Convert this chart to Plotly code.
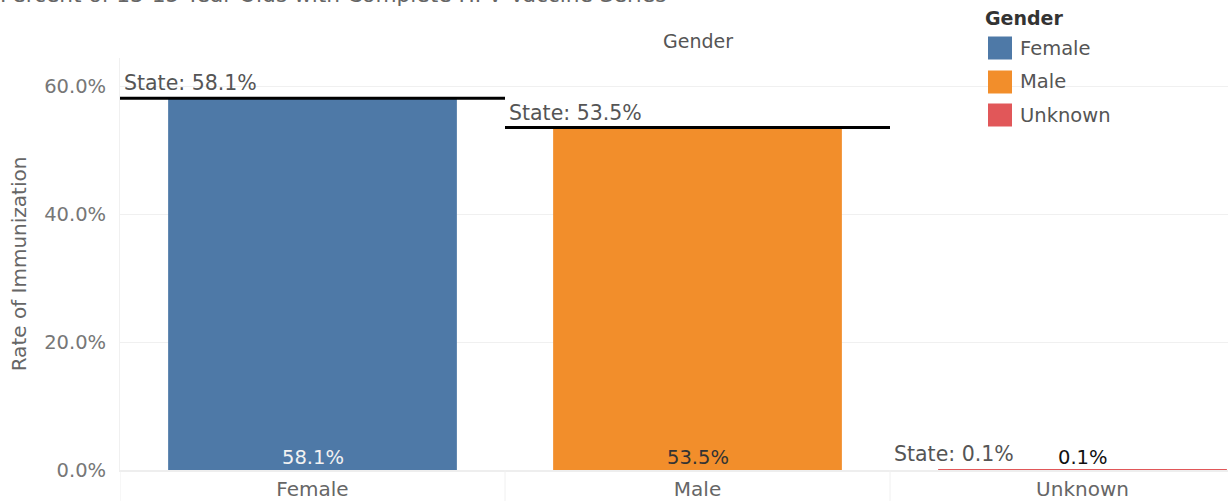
import plotly.graph_objects as go

# ---- data ----
genders = ["Female", "Male", "Unknown"]
rates = [58.1, 53.5, 0.1]            # rate of immunization (%)
state_rates = [58.1, 53.5, 0.1]      # state reference (%)
state_line_visible = [True, True, False]
colors = ["#4e79a7", "#f28e2b", "#e15759"]
label_colors = ["#f2f2f2", "#333333", "#111111"]
y_ticks = [0, 20, 40, 60]
title_text = "Percent of 13-15 Year Olds with Complete HPV Vaccine Series"
col_header = "Gender"
y_title = "Rate of Immunization"

W, H = 1228, 502
ML, MR, MT, MB = 120, 0, 58, 32
PW = W - ML - MR
PH = H - MT - MB
BAND = 385.0
ZERO_PX = H - MB  # pixel row of 0%
PX_PER = 6.4

def px_to_paper_x(px):
    return (px - ML) / PW

def px_to_paper_y(py):
    return (H - MB - py) / PH

FONT = "DejaVu Sans"

fig = go.Figure()
fig.add_trace(go.Bar(
    x=genders, y=rates, marker=dict(color=colors, line=dict(width=0)),
    width=0.75, showlegend=False, hoverinfo="x+y",
))

annotations = []
shapes = []

for i, (g, v, s) in enumerate(zip(genders, rates, state_rates)):
    annotations.append(dict(
        x=i, y=0, xref="x", yref="y", text=f"{v:.1f}%", showarrow=False,
        yanchor="bottom", xanchor="center", yshift=-1,
        font=dict(family=FONT, size=19.5, color=label_colors[i]),
    ))
    if state_line_visible[i]:
        shapes.append(dict(
            type="line", xref="x", yref="y", x0=i - 0.5, x1=i + 0.5, y0=s, y1=s,
            line=dict(color="#000000", width=3), layer="above",
        ))
    annotations.append(dict(
        x=i - 0.5, y=s, xref="x", yref="y", text=f"State: {s:.1f}%",
        showarrow=False, xanchor="left", yanchor="bottom", xshift=2, yshift=1,
        font=dict(family=FONT, size=20.5, color="#555555"),
    ))
    shapes.append(dict(
        type="line", xref="x", yref="paper", x0=i - 0.5, x1=i - 0.5,
        y0=0, y1=-0.075, line=dict(color="#f0f0f0", width=1),
    ))

# column header
annotations.append(dict(
    x=1, y=px_to_paper_y(41), xref="x", yref="paper", text=col_header,
    showarrow=False, xanchor="center", yanchor="middle",
    font=dict(family=FONT, size=19, color="#555555"),
))

# cut-off title at the top
annotations.append(dict(
    x=px_to_paper_x(-2), y=px_to_paper_y(-5), xref="paper", yref="paper",
    text=title_text, showarrow=False, xanchor="left", yanchor="middle",
    font=dict(family=FONT, size=21.7, color="#666666"),
))

# legend (manual, large swatches)
annotations.append(dict(
    x=px_to_paper_x(983), y=px_to_paper_y(18), xref="paper", yref="paper",
    text="<b>Gender</b>", showarrow=False, xanchor="left", yanchor="middle",
    font=dict(family=FONT, size=19, color="#333333"),
))
legend_rows = [48, 82, 115]
for g, c, cy in zip(genders, colors, legend_rows):
    shapes.append(dict(
        type="rect", xref="paper", yref="paper",
        x0=px_to_paper_x(988), x1=px_to_paper_x(1012),
        y0=px_to_paper_y(cy + 11.5), y1=px_to_paper_y(cy - 11.5),
        fillcolor=c, line=dict(width=0),
    ))
    annotations.append(dict(
        x=px_to_paper_x(1018), y=px_to_paper_y(cy), xref="paper", yref="paper",
        text=g, showarrow=False, xanchor="left", yanchor="middle",
        font=dict(family=FONT, size=19.5, color="#555555"),
    ))

x_hi = -0.5 + PW / BAND
y_lo = 0
y_hi = (ZERO_PX - MT) / PX_PER

fig.update_layout(
    width=W, height=H,
    margin=dict(l=ML, r=MR, t=MT, b=MB, pad=0, autoexpand=False),
    paper_bgcolor="white", plot_bgcolor="white",
    font=dict(family=FONT, color="#666666"),
    bargap=0.25,
    annotations=annotations, shapes=shapes,
    xaxis=dict(
        range=[-0.5, x_hi], type="category", showgrid=False, zeroline=False,
        showline=True, linecolor="#eeeeee", linewidth=2,
        ticks="", ticklen=0,
        tickfont=dict(family=FONT, size=20, color="#666666"),
        fixedrange=True, automargin=False,
    ),
    yaxis=dict(
        range=[y_lo, y_hi], tickvals=y_ticks,
        ticktext=[f"{t:.1f}%" for t in y_ticks],
        showgrid=True, gridcolor="#f0f0f0", gridwidth=1,
        zeroline=False, showline=True, linecolor="#f0f0f0", linewidth=1,
        ticks="outside", ticklen=9, tickcolor="rgba(0,0,0,0)",
        tickfont=dict(family=FONT, size=19.5, color="#777777"),
        title=dict(text=y_title, standoff=12,
                   font=dict(family=FONT, size=20, color="#666666")),
        fixedrange=True, automargin=False,
    ),
)

fig.write_html(
    "out.html",
    config={"displayModeBar": False},
    post_script="document.body.style.margin='0';document.body.style.overflow='hidden';",
)
